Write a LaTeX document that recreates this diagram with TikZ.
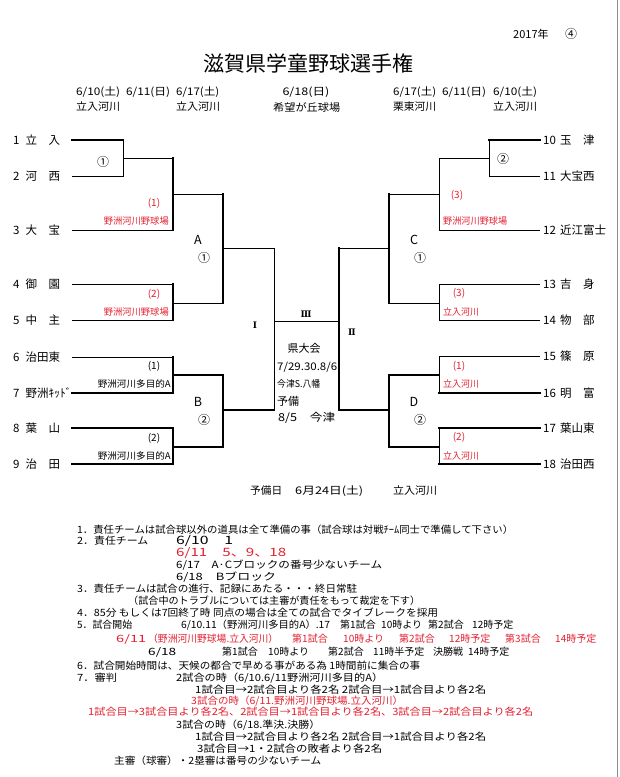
\documentclass[tikz,border=0pt]{standalone}
\usepackage{fontspec}
\setmainfont{Noto Sans CJK JP}
\newfontfamily\romanf{DejaVu Serif}
\usepackage{graphicx}
\newcommand{\fw}[2]{\resizebox{#1}{\height}{#2}}
\definecolor{jred}{RGB}{228,32,48}
\begin{document}
\begin{tikzpicture}[x=1pt,y=-1pt,
  bthin/.style={line width=0.9pt, line cap=rect},
  bthick/.style={line width=1.9pt, line cap=rect},
  tnum/.style={anchor=west, inner sep=0pt, font=\fontsize{11.5}{12}\selectfont},
  blk/.style={inner sep=0pt, font=\fontsize{12.5}{13}\selectfont},
  rnd/.style={inner sep=0pt, font=\fontsize{12}{12}\selectfont},
  gno/.style={inner sep=0pt, font=\fontsize{10}{10}\selectfont},
  roman/.style={inner sep=0pt, font=\romanf\bfseries\fontsize{9}{10}\selectfont},
  venue/.style={inner sep=0pt, font=\fontsize{9.3}{10}\selectfont},
  hdr/.style={anchor=west, inner sep=0pt, font=\fontsize{10.5}{11}\selectfont},
  ctr/.style={anchor=west, inner sep=0pt, font=\fontsize{10.5}{11}\selectfont},
  note/.style={anchor=west, inner sep=0pt, font=\fontsize{10}{10}\selectfont},
  noteb/.style={anchor=west, inner sep=0pt, font=\fontsize{11.5}{12}\selectfont},
  rd/.style={text=jred},
]
\fill[white] (0,0) rectangle (619,777);
\useasboundingbox (0,0) rectangle (619,777);
\draw[line width=1.4pt, black!45] (617.3,0) -- (617.3,777);

% ---------- header ----------
\node[hdr, font=\fontsize{11}{11}\selectfont] (yr) at (513,34) {2017年};
\node[inner sep=0pt, font=\fontsize{12}{12}\selectfont] (no4) at (571,34) {④};
\node[inner sep=0pt, font=\fontsize{21}{21}\selectfont] (title) at (308,63) {\fw{210pt}{滋賀県学童野球選手権}};
\node[hdr] (d1) at (76,92) {\fw{44pt}{6/10(土)}};
\node[hdr] (d2) at (126,92) {\fw{44pt}{6/11(日)}};
\node[hdr] (d3) at (176,92) {\fw{43pt}{6/17(土)}};
\node[hdr, anchor=center] (d4) at (306,92) {\fw{47pt}{6/18(日)}};
\node[hdr] (d5) at (393,92) {\fw{43pt}{6/17(土)}};
\node[hdr] (d6) at (442,92) {\fw{44pt}{6/11(日)}};
\node[hdr] (d7) at (493,92) {\fw{44pt}{6/10(土)}};
\node[hdr] (p1) at (76,107) {\fw{44pt}{立入河川}};
\node[hdr] (p2) at (176,107) {\fw{44pt}{立入河川}};
\node[hdr] (p3) at (273,107) {\fw{67pt}{希望が丘球場}};
\node[hdr] (p4) at (393,107) {\fw{43pt}{栗東河川}};
\node[hdr] (p5) at (493,107) {\fw{44pt}{立入河川}};

% ---------- teams ----------
\foreach \n/\y/\nm in {1/140/立　入, 2/176/河　西, 3/230/大　宝, 4/284/御　園, 5/320/中　主, 6/357/治田東, 7/393/野洲ｷｯﾄﾞ, 8/428/葉　山, 9/464/治　田}{
  \node[tnum] (n\n) at (13,\y) {\n};
  \node[tnum] (t\n) at (25.5,\y) {\nm};
  \coordinate (L\n) at (72,\y);
}
\foreach \n/\y/\nm in {10/140/玉　津, 11/176/大宝西, 12/230/近江富士, 13/284/吉　身, 14/320/物　部, 15/356/篠　原, 16/393/明　富, 17/428/葉山東, 18/464/治田西}{
  \node[tnum] (n\n) at (543,\y) {\n};
  \node[tnum] (t\n) at (560,\y) {\nm};
  \coordinate (R\n) at (540,\y);
}

% junctions
\coordinate (a0) at (123,158);
\coordinate (a1) at (173,194);
\coordinate (a2) at (173,303);
\coordinate (bA) at (223,248);
\coordinate (b1) at (173,375);
\coordinate (b2) at (173,447);
\coordinate (bB) at (223,410);
\coordinate (SL) at (274,321);
\coordinate (c0) at (489,158);
\coordinate (c1) at (439,194);
\coordinate (c2) at (439,303);
\coordinate (bC) at (389,248);
\coordinate (d1) at (439,375);
\coordinate (d2) at (439,447);
\coordinate (bD) at (389,410);
\coordinate (SR) at (339,321);

% ---------- left bracket ----------
\draw[bthick] (L1) -- (L1 -| a0);
\draw[bthin] (L2) -| (a0) (L1 -| a0) -- (a0) (a0) -- (a0 -| a1);
\draw[bthick] (a0 -| a1) -- (L3 -| a1);
\draw[bthin] (L3) -- (L3 -| a1) (a1) -- (a1 -| bA);
\draw[bthin] (L4) -- (L4 -| a2) (L5) -- (L5 -| a2) (a2) -- (a2 -| bA);
\draw[bthick] (L4 -| a2) -- (L5 -| a2);
\draw[bthick] (a1 -| bA) -- (a2 -| bA);
\draw[bthin] (bA) -- (bA -| SL) -- (bB -| SL);
\draw[bthin] (L6) -- (L6 -| b1);
\draw[bthick] (L7) -- (L7 -| b1) (L6 -| b1) -- (L7 -| b1) (b1) -- (b1 -| bB);
\draw[bthick] (L8) -- (L8 -| b2) (L9) -- (L9 -| b2) (L8 -| b2) -- (L9 -| b2) (b2) -- (b2 -| bB);
\draw[bthick] (b1 -| bB) -- (b2 -| bB) (bB) -- (bB -| SL);
% final
\draw[bthin] (SL) -- (SR);
% ---------- right bracket ----------
\draw[bthick] (R10) -- (R10 -| c0);
\draw[bthin] (R11) -| (c0) (R10 -| c0) -- (c0) (c0) -- (c0 -| c1);
\draw[bthin] (c0 -| c1) -- (R12 -| c1) (R12) -- (R12 -| c1) (c1) -- (c1 -| bC);
\draw[bthin] (R13) -- (R13 -| c2) (R14) -- (R14 -| c2) (R13 -| c2) -- (R14 -| c2) (c2) -- (c2 -| bC);
\draw[bthick] (c1 -| bC) -- (c2 -| bC);
\draw[bthin] (bC) -- (bC -| SR);
\draw[bthick] (bC -| SR) -- (bD -| SR);
\draw[bthin] (R15) -- (R15 -| d1) (R15 -| d1) -- (R16 -| d1);
\draw[bthick] (R16) -- (R16 -| d1) (d1) -- (d1 -| bD);
\draw[bthick] (R17) -- (R17 -| d2) (R18) -- (R18 -| d2) (d2) -- (d2 -| bD);
\draw[bthin] (R17 -| d2) -- (R18 -| d2);
\draw[bthick] (d1 -| bD) -- (d2 -| bD) (bD) -- (bD -| SR);

% ---------- bracket labels left ----------
\node[rnd] (r1) at (103,162) {①};
\node[gno, rd] (g1) at (154,203) {(1)};
\node[venue, rd, anchor=east] (v1) at (169,221) {\fw{65pt}{野洲河川野球場}};
\node[gno, rd] (g2) at (154,294) {(2)};
\node[venue, rd, anchor=east] (v2) at (169,312) {\fw{65pt}{野洲河川野球場}};
\node[blk] (lA) at (198,240) {A};
\node[rnd] (rA) at (204,258) {①};
\node[gno] (g3) at (154,366) {(1)};
\node[venue, anchor=east] (v3) at (171,384) {\fw{73pt}{野洲河川多目的A}};
\node[gno] (g4) at (154,438) {(2)};
\node[venue, anchor=east] (v4) at (171,456) {\fw{73pt}{野洲河川多目的A}};
\node[blk] (lB) at (198,402) {B};
\node[rnd] (rB) at (204,420) {②};
% ---------- bracket labels right ----------
\node[rnd] (r2) at (503,159) {②};
\node[gno, rd] (g5) at (457,195) {(3)};
\node[venue, rd, anchor=west] (v5) at (443,221) {\fw{64pt}{野洲河川野球場}};
\node[blk] (lC) at (414,240) {C};
\node[rnd] (rC) at (420,258) {①};
\node[gno, rd] (g6) at (459,293) {(3)};
\node[venue, rd, anchor=west] (v6) at (443,312) {\fw{36pt}{立入河川}};
\node[gno, rd] (g7) at (459,366) {(1)};
\node[venue, rd, anchor=west] (v7) at (443,384) {\fw{36pt}{立入河川}};
\node[blk] (lD) at (414,402) {D};
\node[rnd] (rD) at (420,420) {②};
\node[gno, rd] (g8) at (459,437) {(2)};
\node[venue, rd, anchor=west] (v8) at (443,456) {\fw{36pt}{立入河川}};
% ---------- centre ----------
\node[roman] (rI) at (255,325) {Ⅰ};
\node[roman] (rIII) at (306,314) {Ⅲ};
\node[roman] (rII) at (352,332) {Ⅱ};
\node[inner sep=0pt, font=\fontsize{11}{11}\selectfont] (ken) at (304,348) {県大会};
\node[ctr] (kd) at (277,367) {\fw{60pt}{7/29.30.8/6}};
\node[ctr, font=\fontsize{9.5}{10}\selectfont] (kp) at (277,384) {\fw{43pt}{今津S.八幡}};
\node[ctr, font=\fontsize{11}{11}\selectfont] (yb) at (277,401) {予備};
\node[ctr, font=\fontsize{11}{11}\selectfont] (yd) at (278,418) {\fw{57pt}{8/5　今津}};
% ---------- spare day ----------
\node[hdr] (s1) at (250,491) {\fw{32pt}{予備日}};
\node[hdr] (s2) at (295,491) {\fw{68pt}{6月24日(土)}};
\node[hdr] (s3) at (393,491) {\fw{44pt}{立入河川}};

% ---------- notes ----------
\node[note] (m1) at (77,530) {\fw{436pt}{1．責任チームは試合球以外の道具は全て準備の事（試合球は対戦ﾁｰﾑ同士で準備して下さい）}};
\node[note] (m2) at (77,541) {\fw{71pt}{2．責任チーム}};
\node[noteb] (m2b) at (176,541) {\fw{57pt}{6/10　1}};
\node[noteb, rd] (m3) at (176,553) {\fw{110pt}{6/11　5、9、18}};
\node[note] (m4) at (176,565) {\fw{206pt}{6/17　A·Cブロックの番号少ないチーム}};
\node[note] (m5) at (176,577) {\fw{100pt}{6/18　Bブロック}};
\node[note] (m6) at (77,589) {\fw{280pt}{3．責任チームは試合の進行、記録にあたる・・・終日常駐}};
\node[note] (m7) at (128,601) {\fw{292pt}{（試合中のトラブルについては主審が責任をもって裁定を下す）}};
\node[note] (m8) at (77,613) {\fw{361pt}{4．85分 もしくは7回終了時 同点の場合は全ての試合でタイブレークを採用}};
\node[note] (m9a) at (77,625) {\fw{55pt}{5．試合開始}};
\node[note] (m9b) at (181,625) {\fw{149pt}{6/10.11（野洲河川多目的A）.17}};
\node[note] (m9c) at (340,625) {第1試合};
\node[note] (m9d) at (381,625) {10時より};
\node[note] (m9e) at (428,625) {第2試合};
\node[note] (m9f) at (472,625) {12時予定};
\node[note, rd] (m10a) at (116,639) {\fw{30pt}{6/11}};
\node[note, rd] (m10b) at (148,639) {\fw{130pt}{（野洲河川野球場.立入河川）}};
\node[note, rd] (m10c) at (292,639) {第1試合};
\node[note, rd] (m10d) at (343,639) {10時より};
\node[note, rd] (m10e) at (399,639) {第2試合};
\node[note, rd] (m10f) at (449,639) {12時予定};
\node[note, rd] (m10g) at (505,639) {第3試合};
\node[note, rd] (m10h) at (555,639) {14時予定};
\node[note] (m11a) at (148,652) {\fw{28pt}{6/18}};
\node[note] (m11b) at (222,652) {第1試合};
\node[note] (m11c) at (268,652) {10時より};
\node[note] (m11d) at (328,652) {第2試合};
\node[note] (m11e) at (373,652) {11時半予定};
\node[note] (m11f) at (433,652) {決勝戦};
\node[note] (m11g) at (468,652) {14時予定};
\node[note] (m12) at (77,666) {\fw{343pt}{6．試合開始時間は、天候の都合で早める事がある為 1時間前に集合の事}};
\node[note] (m13a) at (77,678) {\fw{40pt}{7．審判}};
\node[note] (m13b) at (176,678) {\fw{207pt}{2試合の時（6/10.6/11野洲河川多目的A）}};
\node[note] (m14) at (195,690) {\fw{291pt}{1試合目→2試合目より各2名 2試合目→1試合目より各2名}};
\node[note, rd] (m15) at (191,701) {\fw{212pt}{3試合の時（6/11.野洲河川野球場.立入河川）}};
\node[note, rd] (m16) at (88,712) {\fw{445pt}{1試合目→3試合目より各2名、2試合目→1試合目より各2名、3試合目→2試合目より各2名}};
\node[note] (m17) at (176,725) {\fw{144pt}{3試合の時（6/18.準決.決勝）}};
\node[note] (m18) at (195,737) {\fw{291pt}{1試合目→2試合目より各2名 2試合目→1試合目より各2名}};
\node[note] (m19) at (197,749) {\fw{185pt}{3試合目→1・2試合の敗者より各2名}};
\node[note] (m20) at (114,761) {\fw{207pt}{主審（球審）・2塁審は番号の少ないチーム}};
\end{tikzpicture}
\end{document}
